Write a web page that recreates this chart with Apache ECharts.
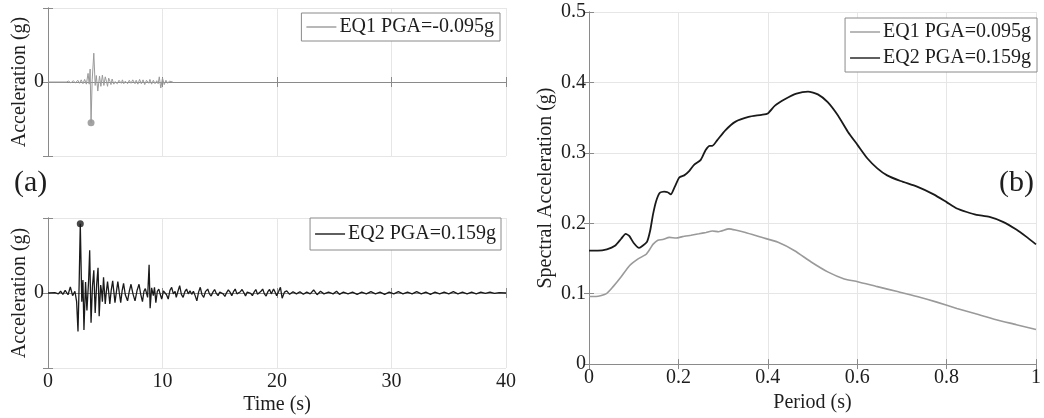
<!DOCTYPE html>
<html>
<head>
<meta charset="utf-8">
<script src="https://cdn.jsdelivr.net/npm/echarts@6/dist/echarts.min.js"></script>
<style>
  html, body { margin: 0; padding: 0; background: #fff; }
  #chart { width: 1044px; height: 418px; }
</style>
</head>
<body>
<div id="chart"></div>
<script>
// Ground-motion records: [time (s), acceleration (g)]
const eq1Record = [
  [0, 0], [1.6, 0], [1.8, 0.002], [2.0, -0.002], [2.2, 0.003], [2.4, -0.002],
  [2.6, 0.004], [2.75, -0.003], [2.9, 0.005], [3.05, -0.004], [3.2, 0.006],
  [3.35, -0.005], [3.5, 0.02], [3.6, -0.005], [3.68, 0.03], [3.76, -0.095],
  [3.86, 0.005], [4.0, 0.067], [4.12, -0.008], [4.22, 0.015], [4.35, -0.021],
  [4.5, 0.014], [4.62, -0.01], [4.75, 0.016], [4.88, -0.008], [5.0, 0.012],
  [5.1, 0.002], [5.2, -0.01], [5.3, 0.009], [5.42, 0.001], [5.5, -0.006],
  [5.6, 0.007], [5.75, -0.005], [5.85, 0.001], [5.95, 0.005], [6.05, -0.004],
  [6.2, 0.004], [6.3, 0.0], [6.4, -0.003], [6.5, 0.005], [6.62, -0.004],
  [6.75, 0.002], [6.85, 0.003], [6.95, -0.004], [7.1, 0.004], [7.25, -0.003],
  [7.4, 0.005], [7.5, 0.001], [7.6, -0.004], [7.7, 0.004], [7.85, -0.005],
  [8.0, 0.006], [8.15, -0.004], [8.3, 0.005], [8.45, -0.006], [8.6, 0.004],
  [8.72, 0.0], [8.8, -0.003], [8.9, 0.006], [9.05, -0.005], [9.2, 0.004],
  [9.35, -0.004], [9.5, 0.003], [9.62, -0.004], [9.72, 0.012], [9.85, -0.014],
  [10.0, 0.009], [10.15, -0.006], [10.3, 0.004], [10.45, -0.003], [10.6, 0.002],
  [10.75, -0.001], [10.9, 0]
];

const eq2Record = [
  [0, 0], [0.6, 0.001], [0.9, -0.002], [1.1, 0.004], [1.3, -0.003], [1.5, 0.006],
  [1.75, -0.004], [1.95, 0.014], [2.15, -0.006], [2.35, 0.004], [2.5, -0.02],
  [2.62, -0.088], [2.72, 0.02], [2.82, 0.159], [2.95, -0.02], [3.05, 0.03],
  [3.14, -0.085], [3.28, 0.025], [3.4, -0.04], [3.55, 0.03], [3.64, 0.098],
  [3.76, -0.068], [3.88, 0.015], [4.0, 0.052], [4.12, -0.046], [4.25, 0.02],
  [4.37, 0.058], [4.47, -0.053], [4.6, 0.018], [4.68, 0.004], [4.75, -0.02],
  [4.85, 0.036], [5.0, -0.025], [5.1, 0.004], [5.2, 0.026], [5.3, 0.002],
  [5.4, -0.025], [5.52, 0.006], [5.65, 0.028], [5.75, 0.003], [5.85, -0.022],
  [5.98, 0.004], [6.1, 0.026], [6.22, 0.002], [6.35, -0.022], [6.48, 0.006],
  [6.6, 0.022], [6.75, -0.004], [6.95, -0.018], [7.1, 0.004], [7.25, 0.02],
  [7.42, -0.002], [7.6, -0.018], [7.78, 0.006], [7.95, 0.02], [8.1, -0.003],
  [8.25, -0.02], [8.38, 0.004], [8.5, 0.01], [8.6, 0.0], [8.7, -0.01],
  [8.83, 0.065], [8.92, -0.035], [9.05, 0.012], [9.2, -0.006], [9.3, 0.013],
  [9.42, -0.022], [9.55, 0.004], [9.68, 0.009], [9.8, -0.003], [9.93, -0.014],
  [10.08, 0.005], [10.2, 0.009], [10.35, -0.004], [10.5, -0.014], [10.65, 0.006],
  [10.8, 0.013], [10.95, -0.002], [11.1, 0.004], [11.2, -0.01], [11.35, 0.004],
  [11.5, 0.017], [11.65, -0.003], [11.8, -0.01], [11.95, 0.003], [12.1, 0.009],
  [12.25, -0.002], [12.4, 0.005], [12.55, -0.003], [12.7, 0.004], [12.85, -0.006],
  [13.0, -0.018], [13.15, 0.002], [13.3, 0.013], [13.45, -0.004], [13.6, -0.01],
  [13.75, 0.003], [13.95, 0.009], [14.1, -0.002], [14.25, -0.007], [14.4, 0.002],
  [14.55, 0.008], [14.7, -0.001], [14.85, -0.006], [15.0, 0.002], [15.15, 0.006],
  [15.3, -0.002], [15.45, -0.008], [15.6, 0.001], [15.75, 0.007], [15.9, 0.002],
  [16.05, -0.006], [16.2, 0.003], [16.35, 0.009], [16.5, -0.002], [16.65, -0.005],
  [16.8, 0.003], [16.95, 0.008], [17.1, 0.001], [17.25, -0.007], [17.4, 0.002],
  [17.55, 0.006], [17.7, -0.001], [17.85, -0.006], [18.0, 0.002], [18.15, 0.008],
  [18.3, -0.003], [18.45, -0.005], [18.6, 0.004], [18.75, 0.009], [18.9, -0.002],
  [19.05, -0.007], [19.2, 0.003], [19.35, 0.008], [19.5, -0.002], [19.7, 0.009],
  [19.85, 0.001], [19.97, -0.006], [20.15, 0.004], [20.3, 0.013], [20.45, -0.012],
  [20.65, 0.002], [20.85, 0.005], [21.1, -0.003], [21.4, 0.003], [21.7, -0.002],
  [22.0, 0.003], [22.3, -0.003], [22.6, 0.002], [22.9, -0.002], [23.2, 0.007],
  [23.5, -0.004], [23.8, 0.004], [24.1, -0.002], [24.5, 0.002], [24.9, -0.002],
  [25.2, 0.004], [25.45, -0.003], [25.8, 0.002], [26.2, -0.002], [26.6, 0.002],
  [27.0, -0.003], [27.4, 0.002], [27.8, -0.002], [28.2, 0.003], [28.6, -0.002],
  [29.0, 0.002], [29.4, -0.003], [29.8, 0.002], [30.2, -0.002], [30.6, 0.003],
  [31.0, -0.002], [31.4, 0.002], [31.8, -0.002], [32.2, 0.003], [32.6, -0.002],
  [33.0, 0.002], [33.4, -0.003], [33.8, 0.002], [34.2, -0.002], [34.6, 0.002],
  [35.0, -0.002], [35.4, 0.003], [35.8, -0.002], [36.2, 0.002], [36.6, -0.002],
  [37.0, 0.002], [37.4, -0.002], [37.8, 0.002], [38.2, -0.001], [38.6, 0.002],
  [39.0, -0.001], [39.4, 0.001], [40.0, 0]
];

// Response spectra: [period (s), spectral acceleration (g)]
const eq1Spectrum = [
  [0, 0.096], [0.016, 0.096], [0.039, 0.1], [0.054, 0.11], [0.072, 0.124],
  [0.091, 0.14], [0.109, 0.149], [0.12, 0.153], [0.128, 0.156], [0.136, 0.163],
  [0.143, 0.17], [0.154, 0.176], [0.165, 0.177], [0.18, 0.18], [0.195, 0.179],
  [0.209, 0.181], [0.228, 0.183], [0.246, 0.185], [0.262, 0.187], [0.276, 0.189],
  [0.29, 0.188], [0.313, 0.192], [0.33, 0.19], [0.35, 0.187], [0.386, 0.18],
  [0.423, 0.173], [0.46, 0.161], [0.497, 0.145], [0.534, 0.131], [0.571, 0.121],
  [0.601, 0.117], [0.645, 0.11], [0.69, 0.103], [0.734, 0.096], [0.778, 0.088],
  [0.823, 0.079], [0.867, 0.071], [0.911, 0.063], [0.956, 0.056], [1.0, 0.049]
];

const eq2Spectrum = [
  [0, 0.161], [0.02, 0.161], [0.04, 0.163], [0.058, 0.168], [0.072, 0.178],
  [0.082, 0.185], [0.09, 0.182], [0.1, 0.172], [0.112, 0.165], [0.12, 0.168],
  [0.13, 0.174], [0.137, 0.19], [0.143, 0.212], [0.15, 0.231], [0.158, 0.243],
  [0.168, 0.245], [0.176, 0.244], [0.183, 0.241], [0.192, 0.252], [0.202, 0.265],
  [0.213, 0.268], [0.224, 0.274], [0.235, 0.283], [0.25, 0.29], [0.261, 0.304],
  [0.27, 0.31], [0.276, 0.31], [0.287, 0.318], [0.305, 0.332], [0.327, 0.344],
  [0.357, 0.351], [0.386, 0.354], [0.4, 0.356], [0.416, 0.367], [0.438, 0.376],
  [0.464, 0.384], [0.49, 0.387], [0.512, 0.383], [0.534, 0.372], [0.557, 0.353],
  [0.579, 0.33], [0.601, 0.311], [0.623, 0.292], [0.645, 0.278], [0.667, 0.268],
  [0.697, 0.26], [0.734, 0.252], [0.771, 0.241], [0.8, 0.23], [0.823, 0.221],
  [0.845, 0.216], [0.867, 0.212], [0.896, 0.209], [0.926, 0.202], [0.956, 0.191],
  [0.978, 0.181], [1.0, 0.17]
];

// Peak ground acceleration: the sample with the largest magnitude
function pgaPoint(record) {
  return record.reduce((best, p) => Math.abs(p[1]) > Math.abs(best[1]) ? p : best, record[0]);
}
const eq1Peak = pgaPoint(eq1Record);
const eq2Peak = pgaPoint(eq2Record);
const fmt = v => v.toFixed(3);
const eq1HistName = 'EQ1 PGA=' + fmt(eq1Peak[1]) + 'g';
const eq2HistName = 'EQ2 PGA=' + fmt(eq2Peak[1]) + 'g';
const eq1SpecName = 'EQ1 PGA=' + fmt(Math.abs(eq1Peak[1])) + 'g';
const eq2SpecName = 'EQ2 PGA=' + fmt(Math.abs(eq2Peak[1])) + 'g';

const FONT = "'Liberation Serif', 'Times New Roman', serif";
const AXIS_COLOR = '#8a8a8a';
const GRID_COLOR = '#e6e6e6';
const TEXT_COLOR = '#1e1e1e';
const GRAY = '#9a9a9a';
const BLACK = '#1a1a1a';

const tickStyle = { inside: true, length: 5, lineStyle: { color: AXIS_COLOR } };
const lineStyleAxis = { lineStyle: { color: AXIS_COLOR, width: 1 } };
const labelStyle = { fontFamily: FONT, fontSize: 20, color: TEXT_COLOR };

function mainX(grid, min, max, interval, showLabels, name) {
  return {
    type: 'value', gridIndex: grid, position: 'bottom', min, max, interval,
    axisLine: lineStyleAxis, axisTick: tickStyle,
    axisLabel: Object.assign({ show: showLabels, margin: 4 }, labelStyle),
    splitLine: { show: true, lineStyle: { color: GRID_COLOR, width: 1 } },
    name: name || '', nameLocation: 'middle', nameGap: 27,
    nameTextStyle: { fontFamily: FONT, fontSize: 20, color: TEXT_COLOR }
  };
}
function mirrorX(grid, min, max, interval) {
  return {
    type: 'value', gridIndex: grid, position: 'top', min, max, interval,
    axisLine: lineStyleAxis, axisTick: tickStyle,
    axisLabel: { show: false }, splitLine: { show: false }
  };
}
function mainY(grid, min, max, interval, formatter, name, nameGap, margin) {
  return {
    type: 'value', gridIndex: grid, position: 'left', min, max, interval,
    axisLine: lineStyleAxis, axisTick: tickStyle,
    axisLabel: Object.assign({ margin, formatter }, labelStyle),
    splitLine: { show: true, lineStyle: { color: GRID_COLOR, width: 1 } },
    name, nameLocation: 'middle', nameGap,
    nameTextStyle: { fontFamily: FONT, fontSize: 20, color: TEXT_COLOR }
  };
}
function mirrorY(grid, min, max, interval) {
  return {
    type: 'value', gridIndex: grid, position: 'right', min, max, interval,
    axisLine: lineStyleAxis, axisTick: tickStyle,
    axisLabel: { show: false }, splitLine: { show: false }
  };
}

const ACC_LIM = 0.172;
const zeroOnly = v => (Math.abs(v) < 1e-9 ? '0' : '');

// Legend entries are drawn as short plain line samples
const legendBase = {
  backgroundColor: '#fff', borderColor: '#8a8a8a', borderWidth: 1,
  icon: 'rect', itemWidth: 30, itemHeight: 1.4, itemGap: 9,
  textStyle: { fontFamily: FONT, fontSize: 20, color: TEXT_COLOR, padding: [0, 0, 0, -2] }
};

const chart = echarts.init(document.getElementById('chart'), null, { renderer: 'canvas' });
chart.setOption({
  animation: false,
  backgroundColor: '#fff',
  grid: [
    { left: 48, top: 8, width: 458, height: 148 },
    { left: 48, top: 218, width: 458, height: 150 },
    { left: 589, top: 12, width: 451, height: 356 }
  ],
  xAxis: [
    mainX(0, 0, 40, 10, false),
    mirrorX(0, 0, 40, 10),
    mainX(1, 0, 40, 10, true, 'Time (s)'),
    mirrorX(1, 0, 40, 10),
    mainX(2, 0, 1, 0.2, true, 'Period (s)'),
    mirrorX(2, 0, 1, 0.2)
  ],
  yAxis: [
    mainY(0, -ACC_LIM, ACC_LIM, ACC_LIM, zeroOnly, 'Acceleration (g)', 16, 4),
    mirrorY(0, -ACC_LIM, ACC_LIM, ACC_LIM),
    mainY(1, -ACC_LIM, ACC_LIM, ACC_LIM, zeroOnly, 'Acceleration (g)', 16, 4),
    mirrorY(1, -ACC_LIM, ACC_LIM, ACC_LIM),
    mainY(2, 0, 0.5, 0.1, v => String(Math.round(v * 10) / 10), 'Spectral Acceleration (g)', 33, 3),
    mirrorY(2, 0, 0.5, 0.1)
  ],
  legend: [
    Object.assign({}, legendBase, { data: [eq1HistName], right: 544, top: 13, padding: [4, 6, 4, 5] }),
    Object.assign({}, legendBase, { data: [eq2HistName], right: 543, top: 218, padding: [6, 5, 6, 5] }),
    Object.assign({}, legendBase, { data: [eq1SpecName, eq2SpecName], orient: 'vertical', right: 7, top: 18, itemGap: 6, padding: [4, 6, 4, 5] })
  ],
  graphic: [
    { type: 'text', left: 14, top: 168, style: { text: '(a)', font: '30px ' + FONT, fill: TEXT_COLOR } },
    { type: 'text', right: 10, top: 168, style: { text: '(b)', font: '30px ' + FONT, fill: TEXT_COLOR } }
  ],
  series: [
    {
      name: eq1HistName, type: 'line', xAxisIndex: 0, yAxisIndex: 0, data: eq1Record,
      symbol: 'none', lineStyle: { color: GRAY, width: 1 }, itemStyle: { color: GRAY }
    },
    {
      name: 'EQ1 peak', type: 'scatter', xAxisIndex: 0, yAxisIndex: 0, data: [eq1Peak],
      symbol: 'circle', symbolSize: 7, itemStyle: { color: '#8c8c8c' }
    },
    {
      name: eq2HistName, type: 'line', xAxisIndex: 2, yAxisIndex: 2, data: eq2Record,
      symbol: 'none', lineStyle: { color: BLACK, width: 1.3 }, itemStyle: { color: BLACK }
    },
    {
      name: 'EQ2 peak', type: 'scatter', xAxisIndex: 2, yAxisIndex: 2, data: [eq2Peak],
      symbol: 'circle', symbolSize: 7, itemStyle: { color: BLACK }
    },
    {
      name: eq1SpecName, type: 'line', xAxisIndex: 4, yAxisIndex: 4, data: eq1Spectrum,
      symbol: 'none', smooth: 0.2, lineStyle: { color: GRAY, width: 1.6 }, itemStyle: { color: GRAY }
    },
    {
      name: eq2SpecName, type: 'line', xAxisIndex: 4, yAxisIndex: 4, data: eq2Spectrum,
      symbol: 'none', smooth: 0.2, lineStyle: { color: BLACK, width: 1.8 }, itemStyle: { color: BLACK }
    }
  ]
});
</script>
</body>
</html>
